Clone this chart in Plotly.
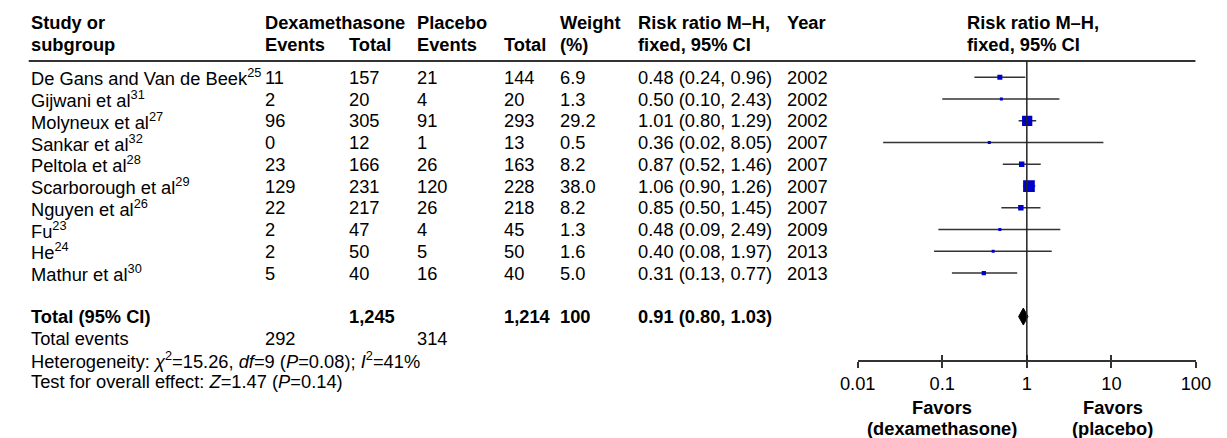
import math
import plotly.graph_objects as go

# ---------------- data ----------------
studies = ["De Gans and Van de Beek", "Gijwani et al", "Molyneux et al", "Sankar et al",
           "Peltola et al", "Scarborough et al", "Nguyen et al", "Fu", "He", "Mathur et al"]
refs = ["25", "31", "27", "32", "28", "29", "26", "23", "24", "30"]
dex_events = [11, 2, 96, 0, 23, 129, 22, 2, 2, 5]
dex_total = [157, 20, 305, 12, 166, 231, 217, 47, 50, 40]
pla_events = [21, 4, 91, 1, 26, 120, 26, 4, 5, 16]
pla_total = [144, 20, 293, 13, 163, 228, 218, 45, 50, 40]
weights = [6.9, 1.3, 29.2, 0.5, 8.2, 38.0, 8.2, 1.3, 1.6, 5.0]
rr = [0.48, 0.50, 1.01, 0.36, 0.87, 1.06, 0.85, 0.48, 0.40, 0.31]
rr_lo = [0.24, 0.10, 0.80, 0.02, 0.52, 0.90, 0.50, 0.09, 0.08, 0.13]
rr_hi = [0.96, 2.43, 1.29, 8.05, 1.46, 1.26, 1.45, 2.49, 1.97, 0.77]
years = [2002, 2002, 2002, 2007, 2007, 2007, 2007, 2009, 2013, 2013]

total_dex = "1,245"
total_pla = "1,214"
total_weight = "100"
total_rr, total_lo, total_hi = 0.91, 0.80, 1.03
total_events_dex = 292
total_events_pla = 314

tick_vals = [0.01, 0.1, 1, 10, 100]
tick_text = ["0.01", "0.1", "1", "10", "100"]

# ---------------- layout helpers ----------------
W, H = 1227, 438
FONT = "Liberation Sans, Arial, Helvetica, sans-serif"
FS = 18.3
ROW0, ROWH = 77.3, 21.75          # pixel centre of first row, row height


def row_of(py):
    return (py - ROW0) / ROWH


col_x = {"study": 11, "dev": 252, "dtot": 338, "pev": 408, "ptot": 497,
         "w": 555, "rr": 635, "yr": 788, "fh": 973}

annotations = []


def txt(s, col, row, bold=False, xpx=None, anchor="left"):
    x = (xpx if xpx is not None else col_x[col]) / W
    if bold:
        s = "<b>" + s + "</b>"
    annotations.append(dict(text=s, x=x, xref="paper", y=row, yref="y",
                            xanchor=anchor, yanchor="middle", showarrow=False,
                            font=dict(family=FONT, size=FS, color="black")))


# header
h1, h2 = row_of(22), row_of(44)
txt("Study or", "study", h1, True)
txt("subgroup", "study", h2, True)
txt("Dexamethasone", "dev", h1, True)
txt("Events", "dev", h2, True)
txt("Total", "dtot", h2, True)
txt("Placebo", "pev", h1, True)
txt("Events", "pev", h2, True)
txt("Total", "ptot", h2, True)
txt("Weight", "w", h1, True)
txt("(%)", "w", h2, True)
txt("Risk ratio M\u2013H,", "rr", h1, True)
txt("fixed, 95% CI", "rr", h2, True)
txt("Year", "yr", h1, True)
txt("Risk ratio M\u2013H,", "fh", h1, True)
txt("fixed, 95% CI", "fh", h2, True)

# study rows
for i in range(len(studies)):
    txt(f"{studies[i]}<sup>{refs[i]}</sup>", "study", i)
    txt(str(dex_events[i]), "dev", i)
    txt(str(dex_total[i]), "dtot", i)
    txt(str(pla_events[i]), "pev", i)
    txt(str(pla_total[i]), "ptot", i)
    txt(f"{weights[i]:.1f}", "w", i)
    txt(f"{rr[i]:.2f} ({rr_lo[i]:.2f}, {rr_hi[i]:.2f})", "rr", i)
    txt(str(years[i]), "yr", i)

n = len(studies)
r_total = n + 1
txt("Total (95% CI)", "study", r_total, True)
txt(total_dex, "dtot", r_total, True)
txt(total_pla, "ptot", r_total, True)
txt(total_weight, "w", r_total, True)
txt(f"{total_rr:.2f} ({total_lo:.2f}, {total_hi:.2f})", "rr", r_total, True)
txt("Total events", "study", r_total + 1)
txt(str(total_events_dex), "dev", r_total + 1)
txt(str(total_events_pla), "pev", r_total + 1)
txt("Heterogeneity: <i>\u03c7</i><sup>2</sup>=15.26, <i>df</i>=9 (<i>P</i>=0.08); <i>I</i><sup>2</sup>=41%",
    "study", r_total + 2)
txt("Test for overall effect: <i>Z</i>=1.47 (<i>P</i>=0.14)", "study", r_total + 3)

# favours labels
txt("Favors", None, row_of(407), True, xpx=950, anchor="center")
txt("(dexamethasone)", None, row_of(428), True, xpx=950, anchor="center")
txt("Favors", None, row_of(407), True, xpx=1125, anchor="center")
txt("(placebo)", None, row_of(428), True, xpx=1125, anchor="center")

# ---------------- forest traces ----------------
ci_x, ci_y = [], []
for i in range(n):
    ci_x += [rr_lo[i], rr_hi[i], None]
    ci_y += [i, i, None]

fig = go.Figure()
fig.add_trace(go.Scatter(x=ci_x, y=ci_y, mode="lines",
                         line=dict(color="#333333", width=1.5),
                         hoverinfo="skip", showlegend=False))
sizes = [max(3.0, 1.9 * math.sqrt(w)) for w in weights]
fig.add_trace(go.Scatter(x=rr, y=list(range(n)), mode="markers",
                         marker=dict(symbol="square", size=sizes, color="#0000CC",
                                     opacity=1, line=dict(width=0)),
                         showlegend=False))
dh = 0.39
fig.add_trace(go.Scatter(x=[total_lo, total_rr, total_hi, total_rr, total_lo],
                         y=[r_total, r_total - dh, r_total, r_total + dh, r_total],
                         mode="lines", fill="toself", fillcolor="black",
                         line=dict(color="black", width=1), showlegend=False))

axis_row = row_of(361)
header_row = row_of(61)

shapes = [
    dict(type="line", xref="paper", yref="y", x0=11 / W, x1=1210 / W,
         y0=header_row, y1=header_row, line=dict(color="#333333", width=2)),
    dict(type="line", xref="x", yref="y", x0=1, x1=1, y0=header_row, y1=axis_row,
         line=dict(color="#222222", width=1.5)),
]

dom = [862.9 / W, 1210.5 / W]
axis_pos = 1 - 361 / H

fig.update_layout(
    width=W, height=H, margin=dict(l=0, r=0, t=0, b=0),
    paper_bgcolor="white", plot_bgcolor="white",
    showlegend=False,
    xaxis=dict(type="log", range=[-2, 2], domain=dom, anchor="free", position=axis_pos,
               showgrid=False, zeroline=False, showline=True, linecolor="#333333",
               linewidth=1.5, ticks="outside", ticklen=6, tickwidth=1.5,
               tickcolor="#333333", tickvals=tick_vals, ticktext=tick_text,
               tickfont=dict(family=FONT, size=FS, color="black")),
    xaxis2=dict(type="log", range=[-2, 2], domain=dom, anchor="free", position=axis_pos,
                overlaying="x", side="bottom", showgrid=False, zeroline=False,
                showline=False, ticks="inside", ticklen=6, tickwidth=1.5,
                tickcolor="#333333", tickvals=tick_vals, showticklabels=False),
    yaxis=dict(range=[row_of(H), row_of(0)], domain=[0, 1], visible=False,
               showgrid=False, zeroline=False),
    annotations=annotations,
    shapes=shapes,
)
# invisible trace so xaxis2 is drawn
fig.add_trace(go.Scatter(x=[1], y=[row_of(H) + 5], xaxis="x2", mode="markers",
                         marker=dict(opacity=0), hoverinfo="skip", showlegend=False))

fig.write_html("out.html", config={"displayModeBar": False},
               post_script="document.body.style.margin='0px';document.body.style.overflow='hidden';")
